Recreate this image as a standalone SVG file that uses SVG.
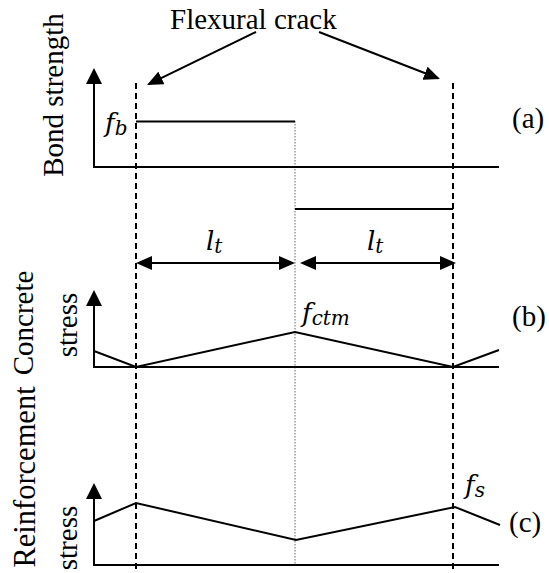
<svg xmlns="http://www.w3.org/2000/svg" width="549" height="573" viewBox="0 0 549 573">
<defs>
<marker id="arr" viewBox="0 0 16 14" refX="14" refY="7" markerWidth="16" markerHeight="14" markerUnits="userSpaceOnUse" orient="auto-start-reverse"><path d="M0,0 L16,7 L0,14 z" fill="#000"/></marker>
<marker id="axarr" viewBox="0 0 16 16" refX="14" refY="8" markerWidth="16" markerHeight="16" markerUnits="userSpaceOnUse" orient="auto"><path d="M0,0 L16,8 L0,16 z" fill="#000"/></marker>
<style>
.ln{stroke:#000;stroke-width:2;fill:none}
.ax{stroke:#000;stroke-width:2;fill:none;marker-end:url(#axarr)}
.dash{stroke:#000;stroke-width:2;stroke-dasharray:6 4;fill:none}
.dot{stroke:#666;stroke-width:1;stroke-dasharray:1.5 1.5;fill:none}
.arw{stroke:#000;stroke-width:2;fill:none;marker-end:url(#arr)}
.dim{stroke:#000;stroke-width:2;fill:none;marker-start:url(#arr);marker-end:url(#arr)}
text{font-family:'Liberation Serif','DejaVu Serif',serif;fill:#000}
.t{font-size:29px}
.m{font-family:'DejaVu Serif','Liberation Serif',serif;font-style:italic;font-size:26px}
.s{font-size:20px}
</style>
</defs>
<rect width="549" height="573" fill="#fff"/>

<g id="guides">
<line class="dash" x1="136" y1="83" x2="136" y2="573"/>
<line class="dash" x1="453" y1="83" x2="453" y2="573"/>
<line class="dot" x1="295" y1="121" x2="295" y2="566"/>
</g>

<g id="panel-a">
<line class="ax" x1="94" y1="167" x2="94" y2="70"/>
<line class="ln" x1="93" y1="167" x2="499" y2="167"/>
<line class="ln" x1="136" y1="121.5" x2="295" y2="121.5"/>
<line class="ln" x1="295" y1="209" x2="453" y2="209"/>
<text class="t" transform="translate(63,95) rotate(-90)" text-anchor="middle">Bond strength</text>
<text class="m" x="105" y="132">f<tspan class="s" dy="3">b</tspan></text>
<text class="t" x="512" y="128">(a)</text>
</g>

<g id="panel-b">
<line class="ax" x1="94" y1="367" x2="94" y2="292"/>
<line class="ln" x1="93" y1="367" x2="499" y2="367"/>
<polyline class="ln" points="94,351 136,367 295,332 453,367 499,350"/>
<text class="t" transform="translate(33,323) rotate(-90)" text-anchor="middle">Concrete</text>
<text class="t" transform="translate(77,325) rotate(-90)" text-anchor="middle">stress</text>
<text class="m" x="302" y="322">f<tspan class="s" dy="3">ctm</tspan></text>
<text class="t" x="512" y="326">(b)</text>
</g>

<g id="panel-c">
<line class="ax" x1="94" y1="565" x2="94" y2="485"/>
<line class="ln" x1="93" y1="565" x2="499" y2="565"/>
<polyline class="ln" points="94,521 136,503 296,540 455,507 500,525"/>
<text class="t" transform="translate(35,477) rotate(-90)" text-anchor="middle" style="font-size:30.5px">Reinforcement</text>
<text class="t" transform="translate(77,538) rotate(-90)" text-anchor="middle">stress</text>
<text class="m" x="465" y="494">f<tspan class="s" dy="3">s</tspan></text>
<text class="t" x="509" y="532">(c)</text>
</g>

<g id="crack-label">
<text class="t" x="170" y="29">Flexural crack</text>
</g>

<g id="dimensions">
<text class="m" x="206" y="250">l<tspan class="s" dy="3">t</tspan></text>
<text class="m" x="367" y="250">l<tspan class="s" dy="3">t</tspan></text>
</g>

<g id="connectors">
<line class="arw" x1="256" y1="32" x2="148.8" y2="84.1"/>
<line class="arw" x1="319" y1="32" x2="438.1" y2="78.3"/>
<line class="dim" x1="138" y1="263" x2="293" y2="263"/>
<line class="dim" x1="302" y1="263" x2="454" y2="263"/>
</g>
</svg>
